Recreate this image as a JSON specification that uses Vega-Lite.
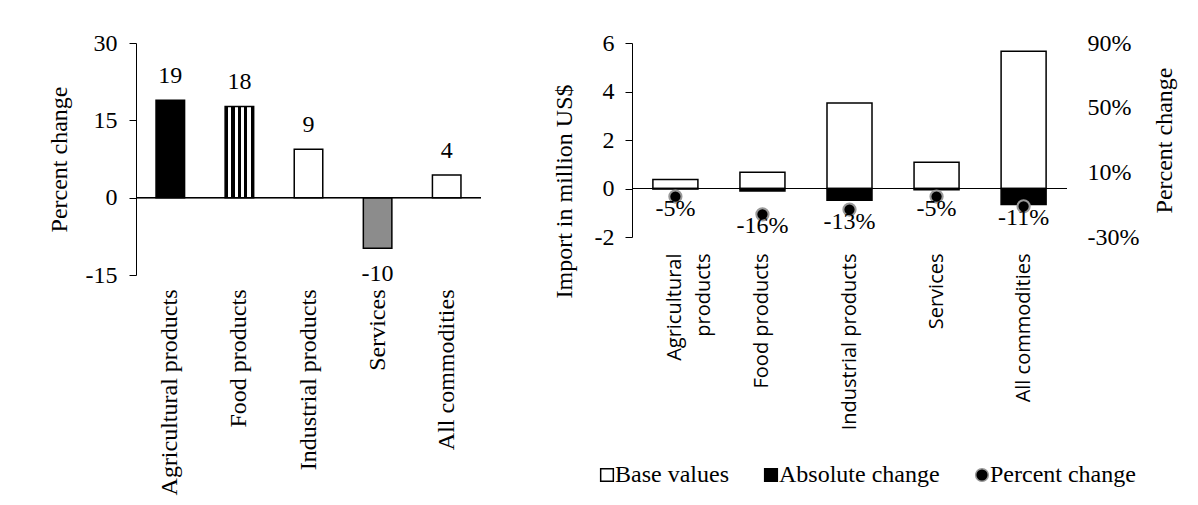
{
  "$schema": "https://vega.github.io/schema/vega-lite/v6.json",
  "padding": {"left": 47, "top": 31, "right": 5, "bottom": 5},
  "background": "white",
  "config": {
    "view": {"stroke": null},
    "locale": {"number": {"decimal": ".", "thousands": ",", "grouping": [3], "currency": ["$", ""], "minus": "-"}},
    "font": "Liberation Serif",
    "axis": {"labelFont": "Liberation Serif", "labelFontSize": 24, "labelColor": "black", "titleFont": "Liberation Serif", "titleFontSize": 24, "titleFontWeight": "normal", "titleColor": "black", "domainColor": "black", "tickColor": "black", "grid": false},
    "legend": {"labelLimit": 0}
  },
  "datasets": {
    "left": [
      {"category": "Agricultural products", "value": 18.9},
      {"category": "Food products", "value": 17.7},
      {"category": "Industrial products", "value": 9.4},
      {"category": "Services", "value": -9.8},
      {"category": "All commodities", "value": 4.4}
    ],
    "right": [
      {"category": "Agricultural products", "series": "Base values", "value": 0.37},
      {"category": "Food products", "series": "Base values", "value": 0.67},
      {"category": "Industrial products", "series": "Base values", "value": 3.53},
      {"category": "Services", "series": "Base values", "value": 1.08},
      {"category": "All commodities", "series": "Base values", "value": 5.66},
      {"category": "Agricultural products", "series": "Absolute change", "value": -0.02},
      {"category": "Food products", "series": "Absolute change", "value": -0.1},
      {"category": "Industrial products", "series": "Absolute change", "value": -0.48},
      {"category": "Services", "series": "Absolute change", "value": -0.05},
      {"category": "All commodities", "series": "Absolute change", "value": -0.66},
      {"category": "Agricultural products", "series": "Percent change", "value": -0.05},
      {"category": "Food products", "series": "Percent change", "value": -0.16},
      {"category": "Industrial products", "series": "Percent change", "value": -0.13},
      {"category": "Services", "series": "Percent change", "value": -0.05},
      {"category": "All commodities", "series": "Percent change", "value": -0.11}
    ]
  },
  "spacing": 151,
  "bounds": "flush",
  "hconcat": [
    {
      "width": 345,
      "height": 232,
      "data": {"name": "left"},
      "layer": [
        {
          "encoding": {
            "x": {"field": "category", "type": "nominal", "sort": null,
                  "scale": {"domain": ["Agricultural products", "Food products", "Industrial products", "Services", "All commodities"], "paddingInner": 0.587, "paddingOuter": 0.29},
                  "axis": {"title": null, "labelAngle": -90, "ticks": false, "domain": false, "labelPadding": 14, "labelLimit": 0}},
            "y": {"field": "value", "type": "quantitative",
                  "scale": {"domain": [-15, 30], "nice": false},
                  "axis": {"values": [-15, 0, 15, 30], "tickSize": 7, "labelPadding": 12, "title": "Percent change", "titlePadding": 14}}
          },
          "layer": [
            {"transform": [{"filter": "datum.category === 'Agricultural products'"}], "mark": {"type": "bar", "fill": "black", "stroke": "black", "strokeWidth": 1.5}},
            {"transform": [{"filter": "datum.category === 'Food products'"}], "mark": {"type": "bar", "stroke": "black", "strokeWidth": 1.5,
              "fill": {"gradient": "linear", "x1": 0, "y1": 0, "x2": 1, "y2": 0, "stops": [
                {"offset": 0, "color": "black"}, {"offset": 0.111, "color": "black"},
                {"offset": 0.111, "color": "white"}, {"offset": 0.222, "color": "white"},
                {"offset": 0.222, "color": "black"}, {"offset": 0.333, "color": "black"},
                {"offset": 0.333, "color": "white"}, {"offset": 0.444, "color": "white"},
                {"offset": 0.444, "color": "black"}, {"offset": 0.556, "color": "black"},
                {"offset": 0.556, "color": "white"}, {"offset": 0.667, "color": "white"},
                {"offset": 0.667, "color": "black"}, {"offset": 0.778, "color": "black"},
                {"offset": 0.778, "color": "white"}, {"offset": 0.889, "color": "white"},
                {"offset": 0.889, "color": "black"}, {"offset": 1, "color": "black"}]}}},
            {"transform": [{"filter": "datum.category === 'Industrial products'"}], "mark": {"type": "bar", "fill": "white", "stroke": "black", "strokeWidth": 1.5}},
            {"transform": [{"filter": "datum.category === 'Services'"}], "mark": {"type": "bar", "fill": "#8c8c8c", "stroke": "black", "strokeWidth": 1.5}},
            {"transform": [{"filter": "datum.category === 'All commodities'"}], "mark": {"type": "bar", "fill": "white", "stroke": "black", "strokeWidth": 1.5}},
            {"transform": [{"filter": "datum.value >= 0"}], "mark": {"type": "text", "font": "Liberation Serif", "fontSize": 24, "color": "black", "baseline": "alphabetic", "dy": -17},
             "encoding": {"text": {"field": "value", "type": "quantitative", "format": ".0f"}}},
            {"transform": [{"filter": "datum.value < 0"}], "mark": {"type": "text", "font": "Liberation Serif", "fontSize": 24, "color": "black", "baseline": "top", "dy": 14},
             "encoding": {"text": {"field": "value", "type": "quantitative", "format": ".0f"}}}
          ]
        },
        {"mark": {"type": "rule", "color": "black", "strokeWidth": 1}, "encoding": {"y": {"datum": 0, "type": "quantitative"}}}
      ]
    },
    {
      "width": 435,
      "height": 194,
      "data": {"name": "right"},
      "resolve": {"scale": {"y": "independent"}},
      "layer": [
        {
          "layer": [
            {"transform": [{"filter": "datum.series === 'Base values'"}],
             "mark": {"type": "bar", "strokeWidth": 1.5},
             "encoding": {
               "x": {"field": "category", "type": "nominal", "sort": null,
                     "scale": {"domain": ["Agricultural products", "Food products", "Industrial products", "Services", "All commodities"], "paddingInner": 0.483, "paddingOuter": 0.24},
                     "axis": {"title": null, "labelAngle": -90, "ticks": false, "domain": false, "labelPadding": 16, "labelLimit": 0, "labelFont": "Open Sans", "labelFontSize": 20, "labelLineHeight": 29,
                              "labelExpr": "datum.value === 'Agricultural products' ? ['Agricultural', 'products\u00a0\u00a0'] : datum.value"}},
               "y": {"field": "value", "type": "quantitative", "scale": {"domain": [-2, 6], "nice": false},
                     "axis": {"values": [-2, 0, 2, 4, 6], "tickSize": 7, "labelPadding": 11, "title": "Import in million US$", "titlePadding": 18, "titleY": 148}},
               "fill": {"field": "series", "type": "nominal", "scale": {"domain": ["Base values", "Absolute change", "Percent change"], "range": ["white", "black", "black"]},
                        "legend": {"orient": "none", "legendX": 459, "legendY": 420, "direction": "horizontal", "title": null, "labelFont": "Liberation Serif", "labelFontSize": 24, "labelColor": "black", "labelLimit": 0, "symbolSize": 160, "symbolStrokeWidth": 1.5, "columnPadding": 30, "labelOffset": -4}},
               "stroke": {"field": "series", "type": "nominal", "scale": {"domain": ["Base values", "Absolute change", "Percent change"], "range": ["black", "black", "#999999"]},
                        "legend": {"orient": "none", "legendX": 459, "legendY": 420, "direction": "horizontal", "title": null, "labelFont": "Liberation Serif", "labelFontSize": 24, "labelColor": "black", "labelLimit": 0, "symbolSize": 160, "symbolStrokeWidth": 1.5, "columnPadding": 30, "labelOffset": -4}}
             }},
            {"transform": [{"filter": "datum.series === 'Absolute change'"}],
             "mark": {"type": "bar", "strokeWidth": 1.5},
             "encoding": {
               "x": {"field": "category", "type": "nominal", "sort": null},
               "y": {"field": "value", "type": "quantitative"},
               "fill": {"field": "series", "type": "nominal"},
               "stroke": {"field": "series", "type": "nominal"}
             }},
            {"mark": {"type": "rule", "color": "black", "strokeWidth": 1}, "encoding": {"y": {"datum": 0, "type": "quantitative"}}}
          ]
        },
        {
          "layer": [
            {"transform": [{"filter": "datum.series === 'Percent change'"}],
             "mark": {"type": "point", "filled": true, "size": 150, "strokeWidth": 2, "opacity": 1},
             "encoding": {
               "x": {"field": "category", "type": "nominal", "sort": null},
               "y": {"field": "value", "type": "quantitative", "scale": {"domain": [-0.3, 0.9], "nice": false},
                     "axis": {"orient": "right", "values": [-0.3, 0.1, 0.5, 0.9], "format": ".0%", "domain": false, "ticks": false, "tickSize": 0, "labelPadding": 20, "title": "Percent change", "titleAngle": 270, "titleBaseline": "top", "titlePadding": 14}},
               "fill": {"field": "series", "type": "nominal"},
               "stroke": {"field": "series", "type": "nominal"},
               "shape": {"field": "series", "type": "nominal", "scale": {"domain": ["Base values", "Absolute change", "Percent change"], "range": ["square", "square", "circle"]},
                        "legend": {"orient": "none", "legendX": 459, "legendY": 420, "direction": "horizontal", "title": null, "labelFont": "Liberation Serif", "labelFontSize": 24, "labelColor": "black", "labelLimit": 0, "symbolSize": 160, "symbolStrokeWidth": 1.5, "columnPadding": 30, "labelOffset": -4}}
             }},
            {"transform": [{"filter": "datum.series === 'Percent change'"}],
             "mark": {"type": "text", "font": "Liberation Serif", "fontSize": 24, "color": "black", "baseline": "alphabetic", "dy": 19},
             "encoding": {
               "x": {"field": "category", "type": "nominal", "sort": null},
               "y": {"field": "value", "type": "quantitative"},
               "text": {"field": "value", "type": "quantitative", "format": ".0%"}
             }}
          ]
        }
      ]
    }
  ]
}
